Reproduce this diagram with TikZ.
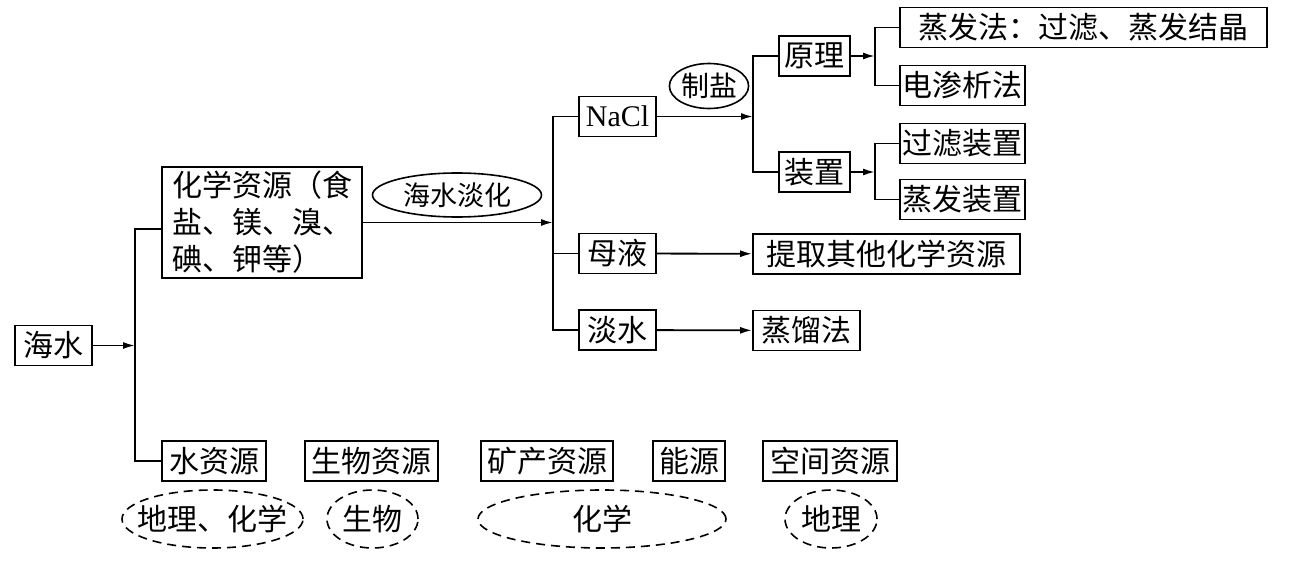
\documentclass[tikz,border=0pt]{standalone}
\usepackage{fontspec}
\newfontfamily\cjk{Noto Sans CJK SC}
\newfontfamily\latin{Liberation Serif}
\usetikzlibrary{arrows.meta,shapes.geometric}

\tikzset{
    box/.style={draw, line width=1.8pt, inner sep=0pt, minimum height=40pt,
        font=\cjk\fontsize{30}{37}\selectfont},
    tag/.style={draw, ellipse, line width=1.6pt, inner sep=0pt,
        font=\cjk\fontsize{27}{30}\selectfont},
    subject/.style={draw, ellipse, dashed, dash pattern=on 9pt off 6pt,
        line width=1.6pt, inner xsep=-11pt, inner ysep=0pt, minimum height=58pt,
        font=\cjk\fontsize{30}{30}\selectfont}
}

\begin{document}
\begin{tikzpicture}[x=1pt, y=-1pt, line width=1.8pt, >={Latex[length=12pt,width=7pt]}]
    \useasboundingbox (0,0) rectangle (1298,564);

    % Draw the root and the resources
    \node[box, minimum width=77pt] (haishui) at (53.5,345.5) {海水};
    \node[box, minimum width=200pt, minimum height=111pt, align=left] (huaxue) at (262,222.5)
        {化学资源（食\\盐、镁、溴、\\碘、钾等）};
    \node[box, minimum width=104pt] (shui) at (214,461) {水资源};
    \node[box, minimum width=133pt] (shengwu) at (371.5,461) {生物资源};
    \node[box, minimum width=132pt] (kuangchan) at (547,461) {矿产资源};
    \node[box, minimum width=72pt] (nengyuan) at (689,461) {能源};
    \node[box, minimum width=134pt] (kongjian) at (830,461) {空间资源};

    % Draw the subjects under them
    \node[subject, minimum width=181pt] (dilihuaxue) at (212.5,519) {地理、化学};
    \node[subject, minimum width=91pt] (sw) at (372.5,519) {生物};
    \node[subject, minimum width=248pt] (hx) at (602,519) {化学};
    \node[subject, minimum width=92pt] (dl) at (831,519) {地理};

    % Draw the desalination branch
    \node[tag, minimum width=169pt, minimum height=44pt] (danhua) at (457,195) {海水淡化};
    \node[box, minimum width=77pt, font=\latin\fontsize{30}{37}\selectfont] (nacl) at (617.5,116.5) {NaCl};
    \node[box, minimum width=77pt] (muye) at (617.5,253.5) {母液};
    \node[box, minimum width=77pt] (danshui) at (617.5,330) {淡水};
    \node[box, minimum width=267pt] (tiqu) at (886.5,254) {提取其他化学资源};
    \node[box, minimum width=107pt] (zhengliu) at (806.5,330.5) {蒸馏法};

    % Draw the salt making part
    \node[tag, minimum width=70pt, minimum height=45pt, font=\cjk\fontsize{28}{30}\selectfont] (zhiyan) at (709,86) {制盐};
    \node[box, minimum width=71pt] (yuanli) at (814.5,56) {原理};
    \node[box, minimum width=71pt] (zhuangzhi) at (814.5,172) {装置};
    \node[box, minimum width=367pt] (zhengfa) at (1083.5,27.5) {蒸发法：过滤、蒸发结晶};
    \node[box, minimum width=125pt] (shenxi) at (962.5,85.5) {电渗析法};
    \node[box, minimum width=125pt] (guolv) at (962.5,143.5) {过滤装置};
    \node[box, minimum width=125pt] (zhengfazz) at (962.5,199.5) {蒸发装置};

    % branch points
    \coordinate (a1) at (135,345.5);
    \coordinate (a2) at (135,229);
    \coordinate (b1) at (553,222.5);
    \coordinate (c1) at (753,116.5);
    \coordinate (d1) at (875,56);
    \coordinate (d2) at (875,172);

    % Draw the connectors
    \draw[->] (haishui) -- (a1);
    \draw (a2 -| huaxue.west) -- (a2) |- (shui.west);
    \draw[->] (huaxue.east) -- (b1);
    \draw (nacl.west) -| (b1) |- (danshui.west);
    \draw (muye.west) -- (muye.west -| b1);
    \draw[->] (muye) -- (tiqu);
    \draw[->] (danshui) -- (zhengliu);
    \draw[->] (nacl) -- (c1);
    \draw (yuanli.west) -| (c1) |- (zhuangzhi.west);
    \draw[->] (yuanli) -- (d1);
    \draw (zhengfa.west) -| (d1) |- (shenxi.west);
    \draw[->] (zhuangzhi) -- (d2);
    \draw (guolv.west) -| (d2) |- (zhengfazz.west);

\end{tikzpicture}
\end{document}
